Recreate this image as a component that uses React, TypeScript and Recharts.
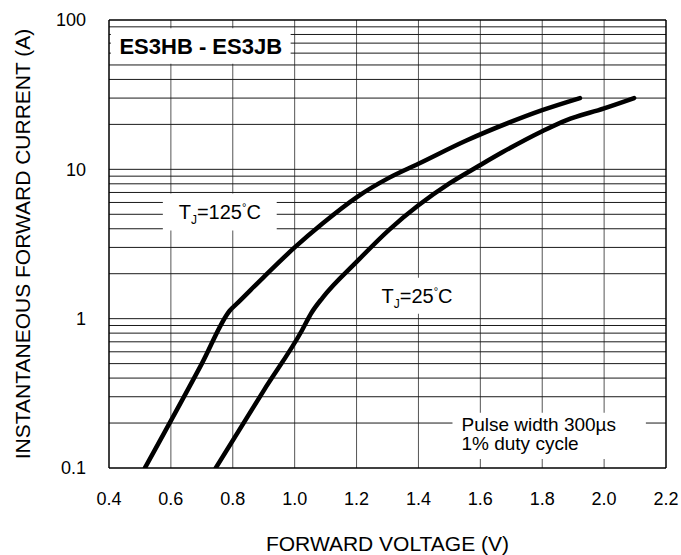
import React from 'react';
import {
  LineChart, Line, XAxis, YAxis, CartesianGrid, ReferenceLine, ReferenceArea,
} from 'recharts';

const FONT = '"Liberation Sans", Arial, Helvetica, sans-serif';

// Forward voltage (V) vs instantaneous forward current (A)
const tj125 = [
  { v: 0.516, i: 0.1 },
  { v: 0.7, i: 0.5 },
  { v: 0.79, i: 1.13 },
  { v: 0.82, i: 1.3 },
  { v: 0.9, i: 1.9 },
  { v: 1.0, i: 3.0 },
  { v: 1.09, i: 4.34 },
  { v: 1.2, i: 6.5 },
  { v: 1.306, i: 8.8 },
  { v: 1.4, i: 10.9 },
  { v: 1.555, i: 15.6 },
  { v: 1.694, i: 20.6 },
  { v: 1.8, i: 24.9 },
  { v: 1.922, i: 30 },
];

const tj25 = [
  { v: 0.745, i: 0.1 },
  { v: 0.9, i: 0.33 },
  { v: 1.023, i: 0.83 },
  { v: 1.055, i: 1.1 },
  { v: 1.09, i: 1.38 },
  { v: 1.2, i: 2.4 },
  { v: 1.306, i: 3.95 },
  { v: 1.4, i: 5.74 },
  { v: 1.5, i: 8.05 },
  { v: 1.597, i: 10.6 },
  { v: 1.671, i: 13.0 },
  { v: 1.8, i: 18.0 },
  { v: 1.877, i: 21.3 },
  { v: 2.0, i: 25.6 },
  { v: 2.097, i: 30 },
];

const xTicks = [0.4, 0.6, 0.8, 1.0, 1.2, 1.4, 1.6, 1.8, 2.0, 2.2];
const yTicks = [0.1, 1, 10, 100];
const xGrid = [0.6, 0.8, 1.0, 1.2, 1.4, 1.6, 1.8, 2.0];
const yGrid = [
  0.2, 0.3, 0.4, 0.5, 0.6, 0.7, 0.8, 0.9,
  1, 2, 3, 4, 5, 6, 7, 8, 9,
  10, 20, 30, 40, 50, 60, 70, 80, 90,
];

const W = 681;
const H = 555;

const fmtX = (v: number) => v.toFixed(1);
const fmtY = (v: number) => String(v);

const scaleOf = (axis: any) => {
  const s = axis && axis.scale;
  return typeof s === 'function' ? s : (s && s.map ? s.map : (v: number) => v);
};

const hGen = (props: any) => {
  const s = scaleOf(props.yAxis);
  return yGrid.map((v) => s(v));
};
const vGen = (props: any) => {
  const s = scaleOf(props.xAxis);
  return xGrid.map((v) => s(v));
};

const BoxTitle = (props: any) => {
  const { viewBox } = props;
  const cx = viewBox.x + viewBox.width / 2;
  const cy = viewBox.y + viewBox.height / 2;
  return (
    <text x={cx} y={cy + 8} textAnchor="middle" fontFamily={FONT} fontSize={22} fontWeight="bold" fill="#000">
      ES3HB - ES3JB
    </text>
  );
};

const makeTj = (temp: string) => (props: any) => {
  const { viewBox } = props;
  const cx = viewBox.x + viewBox.width / 2;
  const cy = viewBox.y + viewBox.height / 2;
  return (
    <text x={cx} y={cy + 7} textAnchor="middle" fontFamily={FONT} fontSize={20} fill="#000">
      T
      <tspan fontSize={12} dy={5}>J</tspan>
      <tspan dy={-5}>={temp}</tspan>
      <tspan fontSize={11} dy={-8}>°</tspan>
      <tspan dy={8}>C</tspan>
    </text>
  );
};

const PulseLabel = (props: any) => {
  const { viewBox } = props;
  const x = viewBox.x + 9;
  const cy = viewBox.y + viewBox.height / 2;
  return (
    <g>
      <text x={x} y={cy - 5} fontFamily={FONT} fontSize={19} fill="#000">Pulse width 300µs</text>
      <text x={x} y={cy + 14} fontFamily={FONT} fontSize={19} fill="#000">1% duty cycle</text>
    </g>
  );
};

const YTitle = () => (
  <text
    x={22}
    y={244}
    transform="rotate(-90, 22, 244)"
    textAnchor="middle"
    dominantBaseline="central"
    fontFamily={FONT}
    fontSize={21}
    fill="#000"
  >
    INSTANTANEOUS FORWARD CURRENT (A)
  </text>
);

const XTitle = (props: any) => {
  const { viewBox } = props;
  const cx = viewBox.x + viewBox.width / 2;
  return (
    <text x={cx} y={551} textAnchor="middle" fontFamily={FONT} fontSize={21} fill="#000">
      FORWARD VOLTAGE (V)
    </text>
  );
};

export default function App() {
  return (
    <div style={{ position: 'fixed', left: 0, top: 0, width: W, height: H, background: '#fff' }}>
      <LineChart width={W} height={H} margin={{ top: 20, right: 15, bottom: 0, left: 0 }}>
        <CartesianGrid
          horizontal={false}
          vertical={true}
          verticalCoordinatesGenerator={vGen}
          stroke="#555"
          strokeWidth={1}
        />
        <CartesianGrid
          horizontal={true}
          vertical={false}
          horizontalCoordinatesGenerator={hGen}
          stroke="#1a1a1a"
          strokeWidth={1}
        />
        <XAxis
          type="number"
          dataKey="v"
          domain={[0.4, 2.2]}
          ticks={xTicks}
          tickFormatter={fmtX}
          allowDataOverflow
          height={87}
          tickSize={0}
          tickMargin={24}
          axisLine={{ stroke: '#000', strokeWidth: 1.5 }}
          tick={{ fill: '#000', fontSize: 18, fontFamily: FONT }}
          label={<XTitle />}
        />
        <YAxis
          type="number"
          dataKey="i"
          scale="log"
          domain={[0.1, 100]}
          ticks={yTicks}
          tickFormatter={fmtY}
          allowDataOverflow
          width={109}
          tickSize={0}
          tickMargin={23}
          axisLine={{ stroke: '#000', strokeWidth: 1.5 }}
          tick={{ fill: '#000', fontSize: 18, fontFamily: FONT }}
          label={<YTitle />}
        />
        <ReferenceArea x1={0.406} x2={0.987} y1={51} y2={88} fill="#fff" fillOpacity={1} stroke="none" label={<BoxTitle />} />
        <ReferenceArea x1={0.574} x2={0.942} y1={3.9} y2={6.9} fill="#fff" fillOpacity={1} stroke="none" label={makeTj('125')} />
        <ReferenceArea x1={1.226} x2={1.565} y1={1.08} y2={1.88} fill="#fff" fillOpacity={1} stroke="none" label={makeTj('25')} />
        <ReferenceArea x1={1.51} x2={2.135} y1={0.115} y2={0.234} fill="#fff" fillOpacity={1} stroke="none" label={<PulseLabel />} />
        <ReferenceLine y={100} stroke="#000" strokeWidth={1.5} />
        <ReferenceLine x={2.2} stroke="#000" strokeWidth={1.5} />
        <Line
          data={tj125}
          dataKey="i"
          type="monotone"
          stroke="#000"
          strokeWidth={4.5}
          dot={false}
          strokeLinecap="round"
          isAnimationActive={false}
        />
        <Line
          data={tj25}
          dataKey="i"
          type="monotone"
          stroke="#000"
          strokeWidth={4.5}
          dot={false}
          strokeLinecap="round"
          isAnimationActive={false}
        />
      </LineChart>
    </div>
  );
}
